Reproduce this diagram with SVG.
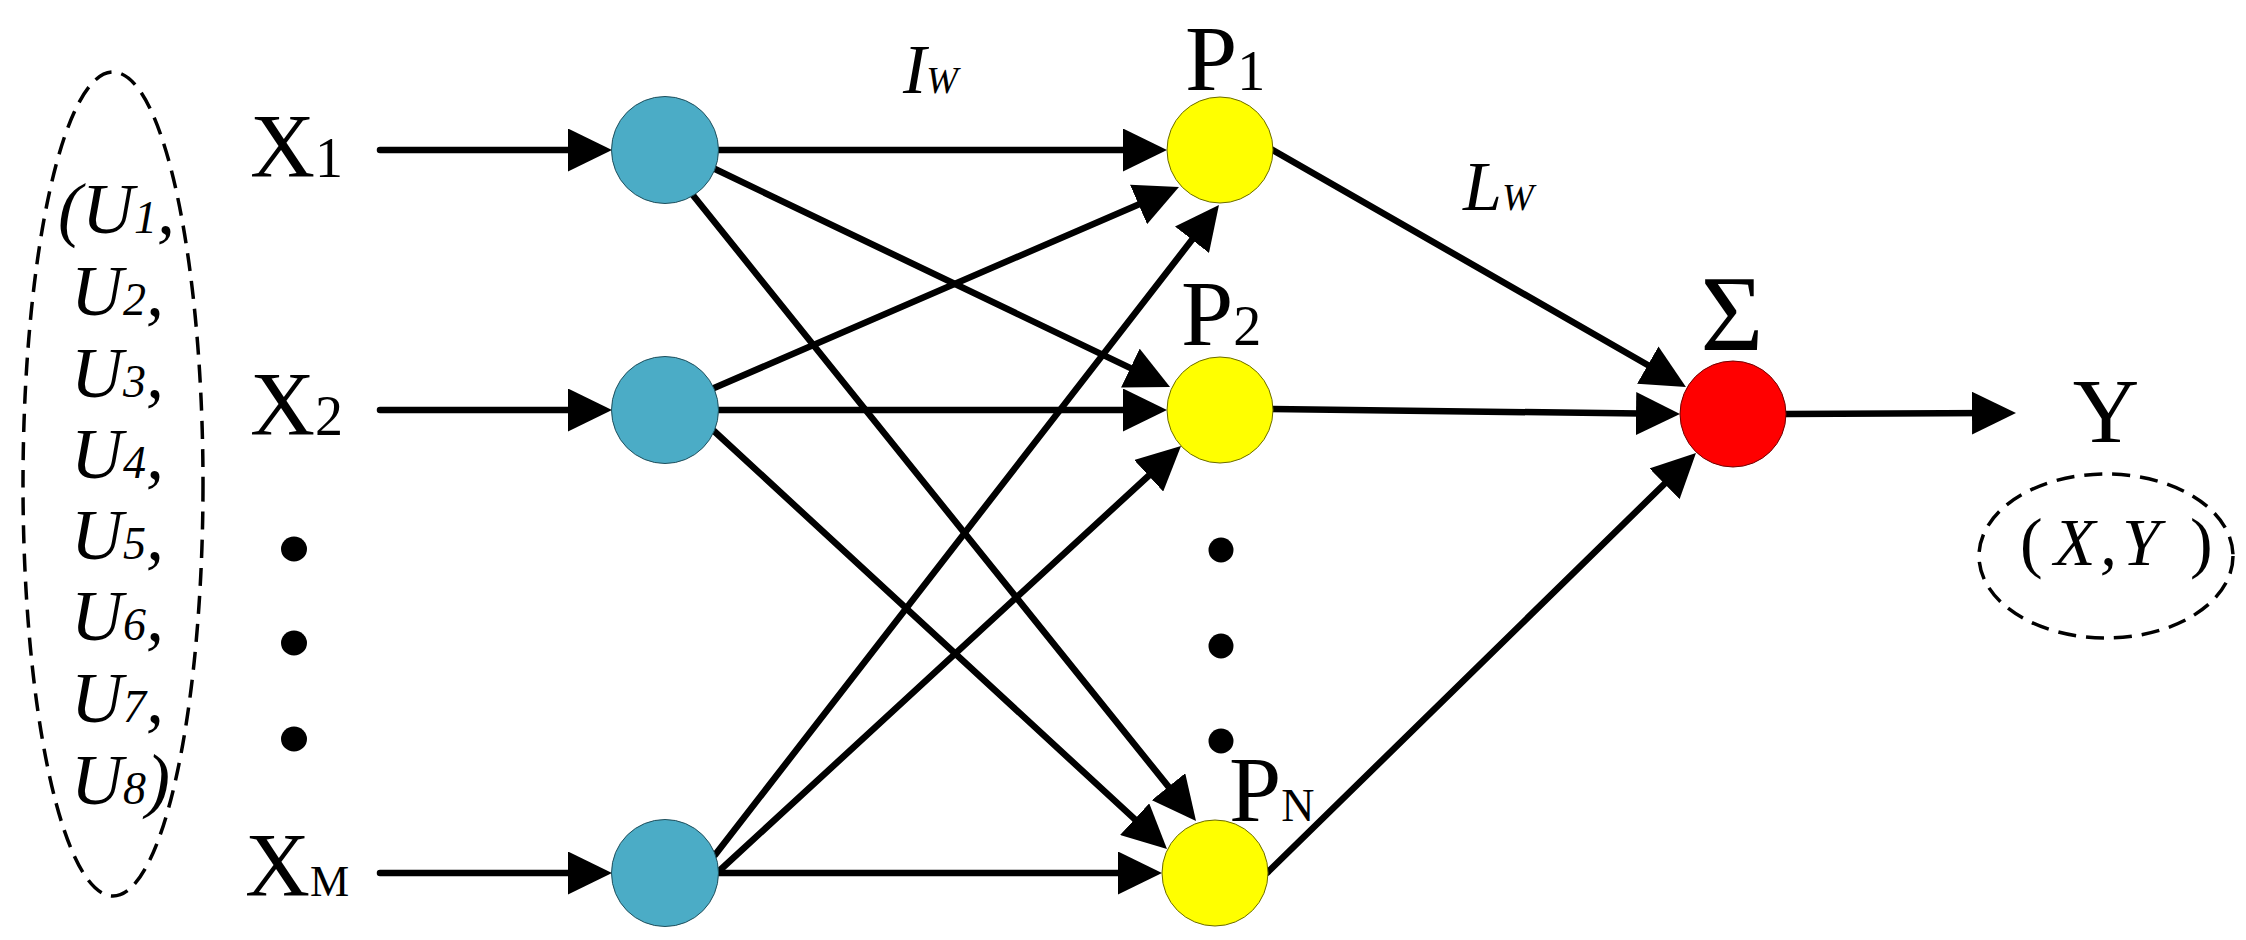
<svg xmlns="http://www.w3.org/2000/svg" width="2246" height="940" viewBox="0 0 2246 940">
<style>
.lbl{font-family:"Liberation Serif","Times New Roman",serif;fill:#000}
.it{font-style:italic}
.con{stroke:#000;stroke-width:6.5;fill:none;stroke-linecap:round;marker-end:url(#ah)}
.dash{fill:none;stroke:#000;stroke-width:3.5;stroke-dasharray:18 10}
.blue{fill:#4BACC6;stroke:#1f4f5c;stroke-width:1}
.yel{fill:#FFFF00;stroke:#6b6b00;stroke-width:1}
.red{fill:#FF0000;stroke:#700000;stroke-width:1}
.dot{fill:#000}
</style>
<defs>
<marker id="ah" viewBox="0 0 44 43" markerWidth="44" markerHeight="43" refX="24" refY="21.5" orient="auto" markerUnits="userSpaceOnUse">
<path d="M0,0 L44,21.5 L0,43 z" fill="#000"/>
</marker>
</defs>
<rect width="2246" height="940" fill="#fff"/>

<g id="input-set">
<ellipse class="dash" cx="113" cy="484" rx="90" ry="412"/>
<text class="lbl it" font-size="72" x="58" y="233">(U<tspan font-size="46">1</tspan>,</text>
<text class="lbl it" font-size="72" x="71" y="315">U<tspan font-size="46">2</tspan>,</text>
<text class="lbl it" font-size="72" x="71" y="397">U<tspan font-size="46">3</tspan>,</text>
<text class="lbl it" font-size="72" x="71" y="478">U<tspan font-size="46">4</tspan>,</text>
<text class="lbl it" font-size="72" x="71" y="559">U<tspan font-size="46">5</tspan>,</text>
<text class="lbl it" font-size="72" x="71" y="640">U<tspan font-size="46">6</tspan>,</text>
<text class="lbl it" font-size="72" x="71" y="722">U<tspan font-size="46">7</tspan>,</text>
<text class="lbl it" font-size="72" x="71" y="804">U<tspan font-size="46">8</tspan>)</text>
</g>

<g id="x1"><text class="lbl" font-size="90" x="250" y="177">X<tspan font-size="56">1</tspan></text></g>
<g id="x2"><text class="lbl" font-size="90" x="250" y="435">X<tspan font-size="56">2</tspan></text></g>
<g id="xdots">
<ellipse class="dot" cx="294" cy="549" rx="13" ry="12.5"/>
<ellipse class="dot" cx="294" cy="643" rx="13" ry="12.5"/>
<ellipse class="dot" cx="294" cy="739" rx="13" ry="12.5"/>
</g>
<g id="xm"><text class="lbl" font-size="90" x="245" y="896">X<tspan font-size="44">M</tspan></text></g>

<g id="connectors">
<line class="con" x1="380" y1="150" x2="592" y2="150"/>
<line class="con" x1="380" y1="410" x2="592" y2="410"/>
<line class="con" x1="380" y1="873" x2="592" y2="873"/>
<line class="con" x1="719" y1="150" x2="1147" y2="150"/>
<line class="con" x1="715" y1="169" x2="1152" y2="378.4"/>
<line class="con" x1="692" y1="194" x2="1183.5" y2="805.4"/>
<line class="con" x1="714" y1="388" x2="1160.6" y2="194.9"/>
<line class="con" x1="719" y1="410" x2="1147" y2="410"/>
<line class="con" x1="714" y1="431" x2="1152.3" y2="835.4"/>
<line class="con" x1="715" y1="855" x2="1206.7" y2="220.8"/>
<line class="con" x1="718" y1="872" x2="1166.3" y2="459.5"/>
<line class="con" x1="719" y1="873" x2="1142" y2="873"/>
<line class="con" x1="1271" y1="149" x2="1668.6" y2="377"/>
<line class="con" x1="1272" y1="409" x2="1660" y2="413.8"/>
<line class="con" x1="1267" y1="873" x2="1681.7" y2="467"/>
<line class="con" x1="1786" y1="414" x2="1996" y2="413"/>
</g>

<g id="iw-label"><text class="lbl it" font-size="70" x="903" y="93">I<tspan font-size="38">W</tspan></text></g>
<g id="lw-label"><text class="lbl it" font-size="70" x="1463" y="210">L<tspan font-size="38">W</tspan></text></g>

<g id="b1"><circle class="blue" cx="665" cy="150" r="53.5"/></g>
<g id="b2"><circle class="blue" cx="665" cy="410" r="53.5"/></g>
<g id="b3"><circle class="blue" cx="665" cy="873" r="53.5"/></g>

<g id="p1"><circle class="yel" cx="1220" cy="150" r="53"/>
<text class="lbl" font-size="94" x="1185" y="90">P<tspan font-size="56">1</tspan></text></g>
<g id="p2"><circle class="yel" cx="1220" cy="410" r="53"/>
<text class="lbl" font-size="94" x="1181" y="345">P<tspan font-size="56">2</tspan></text></g>
<g id="pdots">
<circle class="dot" cx="1221" cy="550" r="12.5"/>
<circle class="dot" cx="1221" cy="646" r="12.5"/>
<circle class="dot" cx="1221" cy="741" r="12.5"/>
</g>
<g id="pn"><circle class="yel" cx="1215" cy="873" r="53"/>
<text class="lbl" font-size="94" x="1229" y="821">P<tspan font-size="46">N</tspan></text></g>

<g id="sum"><circle class="red" cx="1733" cy="414" r="53"/>
<text class="lbl" font-size="108" x="1732" y="350" text-anchor="middle">Σ</text></g>

<g id="y-out"><text class="lbl" font-size="92" x="2106" y="442" text-anchor="middle">Y</text></g>
<g id="xy-set">
<ellipse class="dash" cx="2106" cy="556" rx="127" ry="82"/>
<text class="lbl" font-size="68" y="565"><tspan x="2020">(</tspan><tspan class="it" x="2054">X</tspan><tspan class="it" x="2100">,</tspan><tspan class="it" x="2122">Y</tspan><tspan x="2190">)</tspan></text>
</g>
</svg>
